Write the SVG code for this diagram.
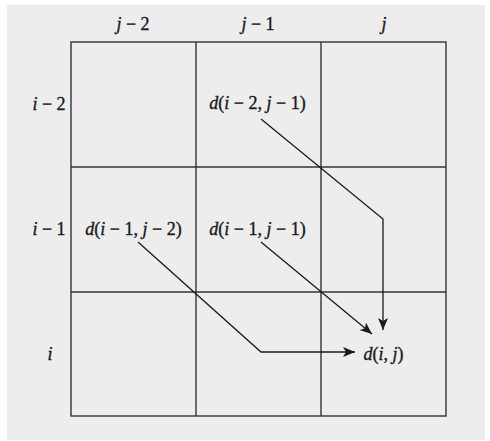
<svg xmlns="http://www.w3.org/2000/svg" width="490" height="441" viewBox="0 0 490 441">
<style>
.t{font-family:"Liberation Serif","DejaVu Serif",serif;font-size:18px;fill:#1a1a1a;stroke:#1a1a1a;stroke-width:0.35;text-anchor:middle}
.v{font-style:italic}
.grid{fill:none;stroke:#333;stroke-width:1.4}
.conn{fill:none;stroke:#1a1a1a;stroke-width:1.3}
</style>
<defs>
<marker id="ah" markerUnits="userSpaceOnUse" markerWidth="14" markerHeight="10" refX="12" refY="5" orient="auto">
<path d="M0,0 L12,5 L0,10 L3,5 z" fill="#1a1a1a"/>
</marker>
</defs>
<rect x="0" y="0" width="490" height="441" fill="#fff"/>
<rect x="7" y="5" width="478" height="435" fill="#ededed"/>
<g id="grid" class="grid">
<rect x="71" y="42" width="375" height="374"/>
<line x1="196" y1="42" x2="196" y2="416"/>
<line x1="321" y1="42" x2="321" y2="416"/>
<line x1="71" y1="167" x2="446" y2="167"/>
<line x1="71" y1="292" x2="446" y2="292"/>
</g>
<g id="headers">
<text id="col-j2" class="t" x="133" y="30"><tspan class="v">j</tspan> − 2</text>
<text id="col-j1" class="t" x="258" y="30"><tspan class="v">j</tspan> − 1</text>
<text id="col-j" class="t v" x="384" y="30">j</text>
<text id="row-i2" class="t" x="49" y="110"><tspan class="v">i</tspan> − 2</text>
<text id="row-i1" class="t" x="49" y="235"><tspan class="v">i</tspan> − 1</text>
<text id="row-i" class="t v" x="50" y="360">i</text>
</g>
<g id="n-i2-j1"><text class="t" x="257.5" y="109"><tspan class="v">d</tspan>(<tspan class="v">i</tspan> − 2, <tspan class="v">j</tspan> − 1)</text></g>
<g id="n-i1-j2"><text class="t" x="133.5" y="235"><tspan class="v">d</tspan>(<tspan class="v">i</tspan> − 1, <tspan class="v">j</tspan> − 2)</text></g>
<g id="n-i1-j1"><text class="t" x="257.5" y="235"><tspan class="v">d</tspan>(<tspan class="v">i</tspan> − 1, <tspan class="v">j</tspan> − 1)</text></g>
<g id="n-i-j"><text class="t" x="383.5" y="360"><tspan class="v">d</tspan>(<tspan class="v">i</tspan>, <tspan class="v">j</tspan>)</text></g>
<g id="connectors" class="conn">
<polyline points="261,119 383,219 383,330" marker-end="url(#ah)"/>
<polyline points="261,242 372,334" marker-end="url(#ah)"/>
<polyline points="138,242 261,352 355,352" marker-end="url(#ah)"/>
</g>
</svg>
